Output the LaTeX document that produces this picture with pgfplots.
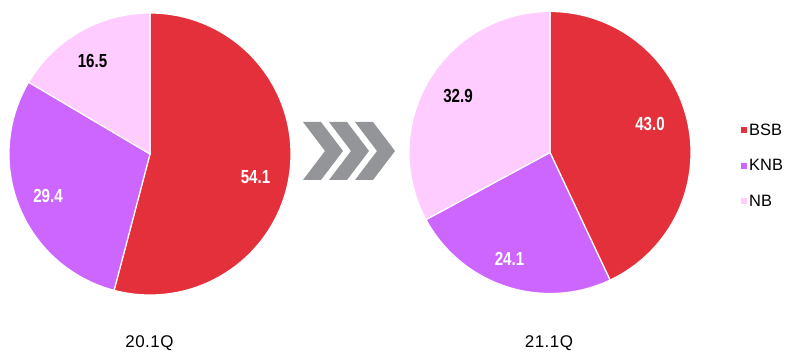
\documentclass[border=0pt]{standalone}
\usepackage{fontspec}
\setmainfont{Liberation Sans}
\newfontfamily\cond{Liberation Sans}[FakeStretch=0.8]
\usepackage{pgfplots}
\pgfplotsset{compat=1.18}
\definecolor{bsb}{HTML}{E3303A}
\definecolor{knb}{HTML}{CC66FF}
\definecolor{nb}{HTML}{FFCCFF}
\definecolor{chev}{HTML}{939598}
\newcommand{\slice}[4]{% cx, cy, value, colour ; clockwise from 12 o'clock
  \pgfmathsetmacro\newcur{\cur-#3*3.6}%
  \addplot[forget plot, fill=#4, draw=white, line width=1.2bp, domain=\newcur:\cur, samples=120, variable=\t]
    ({#1+141*cos(\t)},{#2+141*sin(\t)}) -- (axis cs:#1,#2) -- cycle;
  \xdef\cur{\newcur}%
}
\begin{document}
\begin{tikzpicture}
\begin{axis}[
  scale only axis, width=790bp, height=354bp,
  xmin=0, xmax=790, ymin=0, ymax=354,
  hide axis, clip=false,
  legend style={draw=none, fill=none, at={(axis cs:741,232)}, anchor=north west,
    font=\fontsize{16.5}{18}\selectfont, row sep=18.5bp, inner sep=0pt,
    /tikz/every even column/.append style={column sep=4bp}},
  legend cell align=left,
  legend image code/.code={\fill[#1] (0bp,-2.5bp) rectangle (6bp,3.5bp);},
]
% 20.1Q
\xdef\cur{90}
\slice{150}{200}{54.1}{bsb}
\slice{150}{200}{29.4}{knb}
\slice{150}{200}{16.5}{nb}
% 21.1Q
\xdef\cur{90}
\slice{550}{201.5}{43.0}{bsb}
\slice{550}{201.5}{24.1}{knb}
\slice{550}{201.5}{32.9}{nb}
% chevrons
\addplot[forget plot, fill=chev, draw=none] coordinates {(303,232) (321,232) (343,203) (321,174) (303,174) (325,203)} -- cycle;
\addplot[forget plot, fill=chev, draw=none] coordinates {(329,232) (347,232) (369,203) (347,174) (329,174) (351,203)} -- cycle;
\addplot[forget plot, fill=chev, draw=none] coordinates {(355,232) (373,232) (395,203) (373,174) (355,174) (377,203)} -- cycle;
% value labels
\begin{scope}[every node/.style={font=\cond\bfseries\fontsize{19}{19}\selectfont, inner sep=0pt}]
\node[text=white] at (axis cs:255.5,177) {54.1};
\node[text=white] at (axis cs:48,158) {29.4};
\node[text=black] at (axis cs:92.5,293) {16.5};
\node[text=white] at (axis cs:650,230) {43.0};
\node[text=white] at (axis cs:509.5,95) {24.1};
\node[text=black] at (axis cs:458,257.5) {32.9};
\end{scope}
\node[font=\fontsize{17}{17}\selectfont\addfontfeatures{LetterSpace=3}, inner sep=0pt] at (axis cs:149.5,11) {20.1Q};
\node[font=\fontsize{17}{17}\selectfont\addfontfeatures{LetterSpace=3}, inner sep=0pt] at (axis cs:549,11) {21.1Q};
\addlegendimage{fill=bsb, draw=none}
\addlegendentry{BSB}
\addlegendimage{fill=knb, draw=none}
\addlegendentry{KNB}
\addlegendimage{fill=nb, draw=none}
\addlegendentry{NB}
\end{axis}
\pgfresetboundingbox
\path (0,0) rectangle (790bp,354bp);
\end{tikzpicture}
\end{document}
